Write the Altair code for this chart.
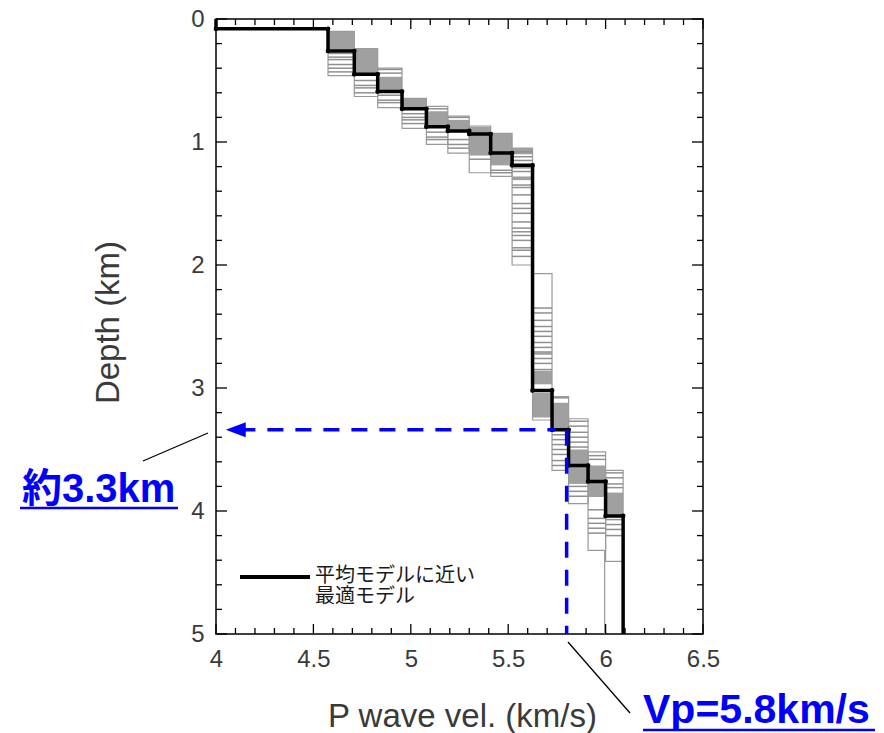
import altair as alt
import pandas as pd

# ---------------- data ----------------
# best-fit model close to the mean model (black step line)
best_vel = [4.0, 4.575, 4.71, 4.83, 4.955, 5.08, 5.19, 5.30, 5.41, 5.52, 5.625, 5.725, 5.81, 5.91, 6.00, 6.09]
best_top = [0.0, 0.08, 0.26, 0.45, 0.59, 0.73, 0.875, 0.91, 0.935, 1.09, 1.19, 3.02, 3.34, 3.63, 3.76, 4.04]
model_bottom = 5.0

# grey ensemble of models, summarised per layer as boxes (velocity range x depth range)
box_name = ["A", "B", "C", "D", "E", "F", "G", "H", "I", "J", "K", "L", "M", "N", "O", "P", "Q", "R", "S"]
box_vmin = [4.575, 4.71, 4.83, 4.955, 5.08, 5.19, 5.30, 5.41, 5.52, 5.625, 5.625, 5.725, 5.725, 5.81, 5.81, 5.91, 6.00, 5.91, 6.00]
box_vmax = [4.71, 4.83, 4.955, 5.08, 5.19, 5.30, 5.41, 5.52, 5.625, 5.725, 5.725, 5.81, 5.81, 5.91, 5.91, 6.00, 6.09, 6.00, 6.09]
box_top = [0.10, 0.24, 0.40, 0.645, 0.71, 0.79, 0.87, 0.93, 1.05, 2.07, 3.02, 3.07, 3.34, 3.25, 3.63, 3.52, 3.67, 3.88, 4.04]
box_bot = [0.46, 0.63, 0.72, 0.89, 1.02, 1.09, 1.25, 1.28, 2.00, 3.02, 3.26, 3.34, 3.67, 3.63, 3.94, 3.88, 4.03, 4.32, 4.41]

# densely overlapping parts of the ensemble (solid grey)
fill_box = ["A", "B", "C", "D", "E", "F", "G", "H", "I", "I", "J", "J", "K", "L", "N", "O", "P", "Q"]
fill_top = [0.10, 0.24, 0.47, 0.645, 0.75, 0.82, 0.875, 0.93, 1.05, 1.28, 2.70, 2.86, 3.04, 3.12, 3.50, 3.64, 3.63, 3.85]
fill_bot = [0.25, 0.45, 0.59, 0.73, 0.87, 0.92, 1.11, 1.19, 1.10, 1.31, 2.73, 2.97, 3.24, 3.33, 3.63, 3.78, 3.88, 4.03]

# layer interfaces of individual ensemble models (grey horizontal lines)
stripe_depths = {
    "A": [0.28, 0.31, 0.33, 0.37, 0.40, 0.43],
    "B": [0.50, 0.54, 0.56, 0.60],
    "C": [0.41, 0.44, 0.62, 0.66, 0.68],
    "D": [0.77, 0.80, 0.82, 0.85],
    "E": [0.73, 0.92, 0.96, 0.98],
    "F": [0.80, 0.98, 1.02, 1.05],
    "G": [1.14],
    "H": [1.23, 1.25],
    "I": [1.08, 1.12, 1.15, 1.21, 1.24, 1.35, 1.37, 1.43, 1.50, 1.54, 1.58, 1.65, 1.70, 1.73,
          1.76, 1.80, 1.86, 1.88, 1.93],
    "J": [2.35, 2.39, 2.45, 2.50, 2.54, 2.58, 2.63, 2.67, 2.76, 2.80, 2.85],
    "L": [3.08],
    "M": [3.38, 3.42, 3.46, 3.50, 3.54, 3.59, 3.63],
    "N": [3.27, 3.31, 3.36, 3.40, 3.44, 3.48],
    "O": [3.80, 3.84, 3.88],
    "P": [3.55, 3.58],
    "Q": [3.69, 3.73, 3.78, 3.81],
    "R": [3.99, 4.06, 4.10, 4.14, 4.18],
    "S": [4.07, 4.11, 4.15, 4.20],
}
extra_vel = [5.995]
extra_top = [4.32]
extra_bot = [5.0]

# annotation values
marker_vel = 5.8
marker_depth = 3.34
arrow_tip_vel = 4.05
dash_start_vel = 4.12
dash_end_vel = 5.74

x_ticks = [4.0, 4.5, 5.0, 5.5, 6.0, 6.5]
y_ticks = [0, 1, 2, 3, 4, 5]
x_minor = [round(4.0 + 0.1 * i, 2) for i in range(1, 25) if i % 5 != 0]
y_minor = [round(0.2 * i, 2) for i in range(1, 25) if i % 5 != 0]

legend_lines = ["平均モデルに近い", "最適モデル"]
depth_note = ["約3.3km"]
vel_note = ["Vp=5.8km/s"]

# ---------------- tables ----------------
bottoms = best_top[1:] + [model_bottom]
step_rows = []
for i, (v, t, b) in enumerate(zip(best_vel, best_top, bottoms)):
    step_rows.append({"vel": v, "depth": t, "order": 2 * i})
    step_rows.append({"vel": v, "depth": b, "order": 2 * i + 1})
step_df = pd.DataFrame(step_rows)

corner_rows = []
for i in range(1, len(best_vel)):
    corner_rows.append({"vel": best_vel[i - 1], "depth": best_top[i]})
    corner_rows.append({"vel": best_vel[i], "depth": best_top[i]})
corner_df = pd.DataFrame(corner_rows)

box_df = pd.DataFrame({"name": box_name, "vmin": box_vmin, "vmax": box_vmax, "top": box_top, "bot": box_bot})
bmin = dict(zip(box_name, box_vmin))
bmax = dict(zip(box_name, box_vmax))
fill_df = pd.DataFrame({"vmin": [bmin[b] for b in fill_box], "vmax": [bmax[b] for b in fill_box],
                        "top": fill_top, "bot": fill_bot})
stripe_df = pd.DataFrame([{"vmin": bmin[k], "vmax": bmax[k], "depth": d}
                          for k, ds in stripe_depths.items() for d in ds])
extra_df = pd.DataFrame({"vel": extra_vel, "top": extra_top, "bot": extra_bot})

# ---------------- encodings ----------------
FONT = "Liberation Sans, Arial, sans-serif"
JFONT = "Noto Sans CJK JP, sans-serif"
W, H = 487, 615

xs = alt.Scale(domain=[4.0, 6.5], nice=False, zero=False)
ys = alt.Scale(domain=[0.0, 5.0], reverse=True, nice=False, zero=False)

x_axis = alt.Axis(values=x_ticks, format="~g", ticks=False, domain=False, grid=False,
                  labelFont=FONT, labelFontSize=24, labelColor="#3a3a3a", labelPadding=13,
                  labelFlush=False, labelOverlap=False,
                  title="P wave vel. (km/s)", titleFont=FONT, titleFontSize=33,
                  titleFontWeight="normal", titleColor="#3a3a3a",
                  titleX=246, titleY=92, titleBaseline="alphabetic", titleAlign="center")
y_axis = alt.Axis(values=y_ticks, format="~g", ticks=False, domain=False, grid=False,
                  labelFont=FONT, labelFontSize=24, labelColor="#3a3a3a", labelPadding=12,
                  labelFlush=False, labelOverlap=False,
                  title="Depth (km)", titleFont=FONT, titleFontSize=33,
                  titleFontWeight="normal", titleColor="#3a3a3a",
                  titleX=-108, titleY=303, titleAngle=270, titleBaseline="middle", titleAlign="center")


def X(f):
    return alt.X(f, type="quantitative", scale=xs, axis=x_axis)


def Y(f):
    return alt.Y(f, type="quantitative", scale=ys, axis=y_axis)


GREY = "#9a9a9a"
BLUE = "#0000ff"

fills = alt.Chart(fill_df).mark_rect(color="#a0a0a0").encode(
    x=X("vmin"), x2="vmax", y=Y("top"), y2="bot")
boxes = alt.Chart(box_df).mark_rect(filled=False, stroke=GREY, strokeWidth=1.2).encode(
    x=X("vmin"), x2="vmax", y=Y("top"), y2="bot")
stripes = alt.Chart(stripe_df).mark_rule(color="#909090", strokeWidth=1.5).encode(
    x=X("vmin"), x2="vmax", y=Y("depth"))
extra = alt.Chart(extra_df).mark_rule(color=GREY, strokeWidth=1.2).encode(
    x=X("vel"), y=Y("top"), y2="bot")

best = alt.Chart(step_df).mark_line(color="black", strokeWidth=3.5).encode(
    x=X("vel"), y=Y("depth"), order="order:Q")
corners = alt.Chart(corner_df).mark_circle(color="black", size=22, opacity=1).encode(
    x=X("vel"), y=Y("depth"))

ann_h = alt.Chart(pd.DataFrame({"v0": [dash_start_vel], "v1": [dash_end_vel], "d": [marker_depth]})).mark_rule(
    color=BLUE, strokeWidth=3.5, strokeDash=[16, 12]).encode(x=X("v0"), x2="v1", y=Y("d"))
ann_v = alt.Chart(pd.DataFrame({"v": [marker_vel], "d0": [marker_depth], "d1": [model_bottom]})).mark_rule(
    color=BLUE, strokeWidth=3.5, strokeDash=[16, 12]).encode(x=X("v"), y=Y("d0"), y2="d1")
arrow = alt.Chart(pd.DataFrame({"v": [arrow_tip_vel], "d": [marker_depth]})).mark_point(
    shape="M 0 0 L 2 -0.75 L 2 0.75 Z", size=400, filled=True, color=BLUE, opacity=1).encode(
    x=X("v"), y=Y("d"))

# inward ticks on all four sides
tick_layers = []
for vals, L in [(x_ticks, 10), (x_minor, 6)]:
    df = pd.DataFrame({"v": vals})
    tick_layers.append(alt.Chart(df).mark_rule(color="black", strokeWidth=1.3).encode(
        x=X("v"), y=alt.value(0), y2=alt.value(L)))
    tick_layers.append(alt.Chart(df).mark_rule(color="black", strokeWidth=1.3).encode(
        x=X("v"), y=alt.value(H), y2=alt.value(H - L)))
for vals, L in [(y_ticks, 11), (y_minor, 6)]:
    df = pd.DataFrame({"d": vals})
    tick_layers.append(alt.Chart(df).mark_rule(color="black", strokeWidth=1.3).encode(
        y=Y("d"), x=alt.value(0), x2=alt.value(L)))
    tick_layers.append(alt.Chart(df).mark_rule(color="black", strokeWidth=1.3).encode(
        y=Y("d"), x=alt.value(W), x2=alt.value(W - L)))

# legend (two-line label as one text mark)
one = pd.DataFrame({"k": [0]})
leg_line = alt.Chart(one).mark_rule(color="black", strokeWidth=4).encode(
    x=alt.value(24), x2=alt.value(94), y=alt.value(558))
leg_text = alt.Chart(pd.DataFrame({"t": [legend_lines]})).mark_text(
    font=JFONT, fontSize=20, lineHeight=21, color="#1a1a1a", align="left", baseline="top").encode(
    text="t:N", x=alt.value(99), y=alt.value(547))

# annotation texts with underline and leader lines
note_font = "Liberation Sans, Noto Sans CJK JP, sans-serif"
t_depth = alt.Chart(pd.DataFrame({"t": depth_note})).mark_text(
    font=note_font, fontSize=40, fontWeight="bold", color=BLUE, align="left", baseline="alphabetic").encode(
    text="t:N", x=alt.value(-194), y=alt.value(483))
u_depth = alt.Chart(one).mark_rule(color=BLUE, strokeWidth=2.5).encode(
    x=alt.value(-196), x2=alt.value(-38), y=alt.value(489))
l_depth = alt.Chart(one).mark_rule(color="black", strokeWidth=1.3).encode(
    x=alt.value(-73), y=alt.value(442), x2=alt.value(-8), y2=alt.value(414))
t_vel = alt.Chart(pd.DataFrame({"t": vel_note})).mark_text(
    font=note_font, fontSize=41, fontWeight="bold", color=BLUE, align="left", baseline="alphabetic").encode(
    text="t:N", x=alt.value(427), y=alt.value(704))
u_vel = alt.Chart(one).mark_rule(color=BLUE, strokeWidth=2.5).encode(
    x=alt.value(427), x2=alt.value(659), y=alt.value(711))
l_vel = alt.Chart(one).mark_rule(color="black", strokeWidth=1.3).encode(
    x=alt.value(352), y=alt.value(623), x2=alt.value(414), y2=alt.value(694))

chart = alt.layer(
    fills, boxes, stripes, extra, *tick_layers, best, corners,
    ann_h, ann_v, arrow, leg_line, leg_text,
    t_depth, u_depth, l_depth, t_vel, u_vel, l_vel,
).properties(
    width=W, height=H,
    padding={"left": 216, "top": 19, "right": 181, "bottom": 99},
    autosize=alt.AutoSizeParams(type="none"),
    background="white",
).configure_view(stroke="black", strokeWidth=1.5)

chart.save("out.html", embed_options={"renderer": "svg", "actions": False})
